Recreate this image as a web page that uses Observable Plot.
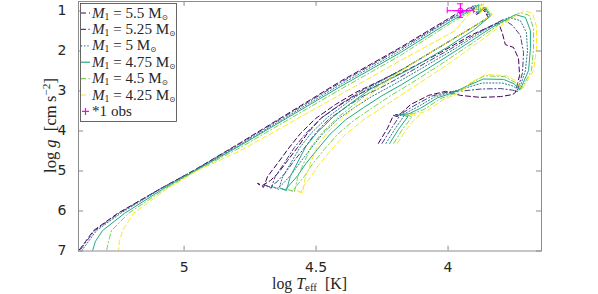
<!DOCTYPE html>
<html><head><meta charset="utf-8">
<script src="https://cdn.jsdelivr.net/npm/d3@7"></script>
<script src="https://cdn.jsdelivr.net/npm/@observablehq/plot@0.6"></script>
<style>html,body{margin:0;padding:0;background:#fff;} #chart{width:598px;height:294px;}</style>
</head><body><div id="chart"></div>
<script>
const masses = ["5.5", "5.25", "5", "4.75", "4.5", "4.25"];
const trackColors = ["#440154", "#414487", "#2a788e", "#22a884", "#7ad151", "#fde725"];
const trackDash = ["5,3", "5,2.5,1.2,2.5", "1.2,2", null, "5,2.5,1.2,2.5", "5,3"];

// [log Teff, log g]
const track55 = [
[4.264,4.31],[4.230,3.94],[4.207,3.61],[4.192,3.64],[4.142,3.34],[4.074,3.11],[4.010,3.01],
[3.953,3.11],[3.877,3.16],[3.801,3.14],[3.756,3.09],
[3.745,3.04],[3.729,2.61],[3.733,2.19],[3.752,1.91],[3.783,1.84],[3.794,1.56],[3.809,1.29],
[3.915,1.61],[4.029,2.04],[4.180,2.56],[4.283,2.91],[4.358,3.14],[4.419,3.39],[4.483,3.69],[4.533,4.06],[4.570,4.41],[4.608,4.74],[4.642,5.04],[4.673,5.24],[4.703,5.36],
[4.722,5.31],[4.699,5.41],
[4.684,5.14],[4.646,4.81],[4.605,4.44],[4.559,4.06],[4.502,3.69],[4.427,3.34],[4.351,3.04],[4.256,2.74],[4.180,2.49],[4.029,1.89],[3.915,1.44],[3.847,1.16],
[3.870,0.94],[3.892,1.09],[3.915,0.89],[3.934,0.99],[3.961,1.04],
[3.991,1.16],[4.180,1.91],[4.408,2.76],[4.786,4.29],[4.964,4.99],[5.089,5.44],[5.252,6.06],[5.343,6.49],[5.373,6.76],[5.400,7.00]
];
const track525 = [
[4.250,4.31],[4.216,3.95],[4.184,3.63],[4.200,3.59],[4.180,3.58],[4.129,3.37],[4.063,3.13],[3.999,3.02],
[3.945,3.00],[3.875,2.95],[3.800,2.94],[3.755,2.98],[3.738,3.02],
[3.718,2.54],[3.714,2.04],[3.726,1.61],[3.756,1.36],[3.790,1.21],
[3.889,1.55],[3.999,1.98],[4.142,2.51],[4.247,2.89],[4.322,3.13],[4.386,3.40],[4.451,3.70],[4.504,4.07],[4.545,4.43],[4.585,4.76],[4.618,5.06],[4.648,5.27],[4.674,5.40],
[4.695,5.35],[4.670,5.43],
[4.655,5.14],[4.620,4.80],[4.583,4.42],[4.539,4.06],[4.479,3.67],[4.406,3.32],[4.332,3.01],[4.243,2.70],[4.165,2.43],[4.021,1.86],[3.911,1.42],[3.844,1.15],
[3.866,0.92],[3.888,1.08],[3.905,0.87],[3.926,0.99],[3.953,1.05],
[3.991,1.19],[4.180,1.94],[4.408,2.79],[4.786,4.31],[4.964,4.99],[5.089,5.44],[5.248,6.06],[5.339,6.49],[5.370,6.76],[5.396,7.00]
];
const track50 = [
[4.235,4.31],[4.202,3.96],[4.168,3.63],[4.192,3.59],[4.165,3.57],[4.116,3.40],[4.051,3.15],[3.987,3.02],
[3.937,2.93],[3.870,2.80],[3.795,2.80],[3.752,2.88],[3.732,2.99],
[3.707,2.49],[3.699,1.99],[3.703,1.54],[3.726,1.24],[3.771,1.16],
[3.862,1.48],[3.968,1.92],[4.104,2.45],[4.212,2.86],[4.287,3.13],[4.354,3.41],[4.419,3.71],[4.475,4.07],[4.520,4.44],[4.561,4.79],[4.594,5.09],[4.623,5.30],[4.645,5.43],
[4.667,5.39],[4.642,5.46],
[4.626,5.14],[4.594,4.78],[4.561,4.41],[4.518,4.05],[4.457,3.66],[4.384,3.30],[4.313,2.98],[4.230,2.67],[4.150,2.37],[4.014,1.83],[3.907,1.41],[3.841,1.13],
[3.863,0.91],[3.885,1.07],[3.896,0.85],[3.918,0.98],[3.946,1.06],
[3.991,1.21],[4.180,1.99],[4.408,2.84],[4.786,4.34],[4.961,4.99],[5.086,5.44],[5.241,6.06],[5.332,6.49],[5.362,6.76],[5.389,7.00]
];
const track475 = [
[4.221,4.31],[4.189,3.97],[4.152,3.64],[4.177,3.59],[4.148,3.57],[4.104,3.43],[4.040,3.17],[3.976,3.03],
[3.930,2.88],[3.866,2.70],[3.790,2.71],[3.750,2.82],[3.727,2.97],
[3.695,2.49],[3.688,1.94],[3.688,1.49],[3.707,1.16],[3.745,1.09],
[3.836,1.42],[3.938,1.86],[4.067,2.40],[4.176,2.84],[4.251,3.12],[4.321,3.42],[4.388,3.72],[4.447,4.08],[4.495,4.46],[4.538,4.81],[4.569,5.11],[4.598,5.33],[4.617,5.47],
[4.636,5.43],[4.612,5.49],
[4.598,5.14],[4.569,4.77],[4.539,4.39],[4.498,4.05],[4.434,3.64],[4.363,3.28],[4.294,2.95],[4.218,2.70],[4.135,2.42],[4.006,1.92],[3.904,1.48],[3.838,1.12],
[3.861,0.90],[3.883,1.06],[3.884,0.84],[3.911,0.97],[3.938,1.07],
[3.991,1.26],[4.180,2.04],[4.408,2.89],[4.786,4.36],[4.957,4.99],[5.078,5.44],[5.226,6.06],[5.309,6.49],[5.336,6.76],[5.347,7.00]
];
const track45 = [
[4.206,4.31],[4.175,3.98],[4.136,3.64],[4.162,3.59],[4.130,3.56],[4.091,3.46],[4.028,3.19],[3.964,3.03],
[3.922,2.84],[3.862,2.62],[3.786,2.64],[3.747,2.78],[3.722,2.95],
[3.684,2.49],[3.676,1.94],[3.676,1.44],[3.692,1.11],[3.726,1.04],
[3.809,1.35],[3.907,1.80],[4.029,2.34],[4.141,2.81],[4.216,3.11],[4.289,3.43],[4.356,3.73],[4.418,4.08],[4.470,4.47],[4.515,4.84],[4.545,5.14],[4.573,5.36],[4.588,5.50],
[4.605,5.47],[4.582,5.52],
[4.569,5.14],[4.543,4.75],[4.517,4.38],[4.477,4.04],[4.412,3.63],[4.341,3.26],[4.275,2.92],[4.205,2.60],[4.120,2.25],[3.999,1.77],[3.900,1.38],[3.835,1.10],
[3.858,0.90],[3.880,1.05],[3.873,0.82],[3.903,0.97],[3.931,1.08],
[3.991,1.31],[4.180,2.11],[4.408,2.96],[4.786,4.41],[4.953,4.99],[5.070,5.44],[5.211,6.06],[5.275,6.49],[5.286,6.76],[5.294,7.00]
];
const track425 = [
[4.192,4.31],[4.161,3.99],[4.131,3.74],[4.108,3.61],[4.146,3.59],[4.097,3.54],[4.078,3.49],[4.017,3.21],[3.953,3.04],
[3.915,2.79],[3.858,2.59],[3.783,2.61],[3.745,2.74],[3.718,2.94],
[3.676,2.49],[3.665,1.94],[3.665,1.39],[3.680,1.06],[3.711,0.99],
[3.783,1.29],[3.877,1.74],[3.991,2.29],[4.105,2.79],[4.180,3.11],[4.256,3.44],[4.324,3.74],[4.389,4.09],[4.445,4.49],[4.491,4.86],[4.521,5.16],[4.548,5.39],[4.559,5.54],
[4.574,5.49],[4.551,5.54],
[4.540,5.14],[4.517,4.74],[4.495,4.36],[4.457,4.04],[4.389,3.61],[4.320,3.24],[4.256,2.89],[4.192,2.56],[4.105,2.19],[3.991,1.74],[3.896,1.36],[3.832,1.09],
[3.855,0.89],[3.877,1.04],[3.862,0.81],[3.896,0.96],[3.923,1.09],
[3.972,1.49],[4.180,2.24],[4.408,3.09],[4.786,4.49],[4.949,4.99],[5.063,5.44],[5.192,6.06],[5.233,6.49],[5.245,6.76],[5.248,7.00]
];
const tracks = [track55, track525, track50, track475, track45, track425];

const obsTeff = [3.953];
const obsLogg = [0.99];
const obsTeffErr = [0.05];
const obsLoggErr = [0.17];
const obsLabel = "*1 obs";

const xTicks = [5, 4.5, 4];
const yTicks = [1, 2, 3, 4, 5, 6, 7];
const xDomain = [5.40, 3.646];
const yDomain = [7, 0.7625];

const obs = obsTeff.map((x, i) => ({x, y: obsLogg[i], xe: obsTeffErr[i], ye: obsLoggErr[i]}));
const axisColor = "#8c8c8c";
const magenta = "#ff00ff";

const marks = [];
tracks.forEach((t, k) => {
  const opts = {x: d => d[0], y: d => d[1], stroke: trackColors[k], strokeWidth: 1, clip: true};
  if (trackDash[k]) opts.strokeDasharray = trackDash[k];
  marks.push(Plot.line(t, opts));
});
marks.push(
  Plot.ruleY(obs, {y: "y", x1: d => d.x - d.xe, x2: d => d.x + d.xe, stroke: magenta, strokeWidth: 1}),
  Plot.ruleX(obs, {x: "x", y1: d => d.y - d.ye, y2: d => d.y + d.ye, stroke: magenta, strokeWidth: 1}),
  Plot.ruleX(obs, {x: d => d.x - d.xe, y1: d => d.y - 0.08, y2: d => d.y + 0.08, stroke: magenta}),
  Plot.ruleX(obs, {x: d => d.x + d.xe, y1: d => d.y - 0.08, y2: d => d.y + 0.08, stroke: magenta}),
  Plot.ruleY(obs, {y: d => d.y - d.ye, x1: d => d.x - 0.012, x2: d => d.x + 0.012, stroke: magenta}),
  Plot.ruleY(obs, {y: d => d.y + d.ye, x1: d => d.x - 0.012, x2: d => d.x + 0.012, stroke: magenta}),
  Plot.dot(obs, {x: "x", y: "y", symbol: "plus", r: 4.5, stroke: magenta, strokeWidth: 1.2}),
  Plot.dot(obs, {x: "x", y: "y", symbol: "circle", r: 2.5, stroke: magenta, strokeWidth: 1})
);
marks.push(
  Plot.frame({stroke: axisColor}),
  Plot.ruleX(xTicks, {x: d => d, y1: yDomain[0], y2: yDomain[0] - 0.12, stroke: axisColor}),
  Plot.ruleX(xTicks, {x: d => d, y1: yDomain[1], y2: yDomain[1] + 0.12, stroke: axisColor}),
  Plot.ruleY(yTicks, {y: d => d, x1: xDomain[0], x2: xDomain[0] - 0.019, stroke: axisColor}),
  Plot.ruleY(yTicks, {y: d => d, x1: xDomain[1], x2: xDomain[1] + 0.019, stroke: axisColor}),
  Plot.axisX(xTicks, {anchor: "bottom", tickSize: 0, tickPadding: 11, tickFormat: d => String(d), label: null, fill: "#262626"}),
  Plot.axisY(yTicks, {anchor: "left", tickSize: 0, tickPadding: 12, tickFormat: d => String(d), label: null, fill: "#262626"})
);

const chart = Plot.plot({
  width: 598, height: 294,
  marginLeft: 78, marginRight: 57, marginTop: 1, marginBottom: 43.5,
  style: {fontFamily: "'DejaVu Sans', sans-serif", fontSize: "14px", background: "#fff", color: "#262626"},
  x: {domain: xDomain, label: null},
  y: {domain: yDomain, label: null},
  marks
});
document.getElementById("chart").appendChild(chart);

function fitText(sel, target) {
  const L = sel.node().getComputedTextLength();
  if (!L) return 1;
  const k = target / L;
  applyScale(sel, k);
  return k;
}
function applyScale(sel, k) {
  sel.attr("font-size", +sel.attr("font-size") * k);
  sel.selectAll("tspan").each(function() {
    const t = d3.select(this);
    if (t.attr("font-size")) t.attr("font-size", +t.attr("font-size") * k);
    if (t.attr("dy")) t.attr("dy", +t.attr("dy") * k);
  });
}

const svg = d3.select(chart);
const serif = "'Liberation Serif', 'DejaVu Serif', serif";
const xt = svg.append("text").attr("x", 309.5).attr("y", 289).attr("text-anchor", "middle")
  .attr("font-family", serif).attr("font-size", 16).attr("fill", "#262626");
xt.append("tspan").text("log ");
xt.append("tspan").attr("font-style", "italic").text("T");
xt.append("tspan").attr("font-size", 11).attr("dy", 2.5).text("eff");
xt.append("tspan").attr("dy", -2.5).text("\u2002[K]");
fitText(xt, 75);

const yt = svg.append("text").attr("transform", "translate(56,125.5) rotate(-90)").attr("text-anchor", "middle")
  .attr("font-family", serif).attr("font-size", 16).attr("fill", "#262626");
yt.append("tspan").text("log ");
yt.append("tspan").attr("font-style", "italic").text("g");
yt.append("tspan").text("\u2002[cm\u2009s");
yt.append("tspan").attr("font-size", 11).attr("dy", -6).text("\u22122");
yt.append("tspan").attr("dy", 6).text("]");
fitText(yt, 95);

const lg = svg.append("g").attr("text-anchor", "start");
lg.append("rect").attr("x", 80.5).attr("y", 3.5).attr("width", 96).attr("height", 118)
  .attr("fill", "#fff").attr("stroke", "#404040").attr("stroke-width", 0.8);
let legendScale = null;
masses.forEach((m, k) => {
  const yc = 13 + 16.4 * k;
  const ln = lg.append("line").attr("x1", 81).attr("x2", 90).attr("y1", yc).attr("y2", yc)
    .attr("stroke", trackColors[k]).attr("stroke-width", 1.2);
  if (trackDash[k]) ln.attr("stroke-dasharray", trackDash[k]);
  const t = lg.append("text").attr("x", 92).attr("y", yc + 4.5).attr("text-anchor", "start")
    .attr("font-family", serif).attr("font-size", 14).attr("fill", "#262626");
  t.append("tspan").attr("font-style", "italic").text("M");
  t.append("tspan").attr("font-size", 9).attr("dy", 2).text("1");
  t.append("tspan").attr("dy", -2).text(" = " + m + " M");
  t.append("tspan").attr("font-size", 7).attr("dy", 2).text("\u2299");
  if (legendScale === null) legendScale = fitText(t, 76);
  else applyScale(t, legendScale);
});
{
  const yc = 13 + 16.4 * 6;
  lg.append("path").attr("d", `M82,${yc}h7M85.5,${yc - 3.5}v7`).attr("stroke", magenta).attr("stroke-width", 1.2);
  lg.append("text").attr("x", 92).attr("y", yc + 4.5).attr("text-anchor", "start").attr("font-family", serif)
    .attr("font-size", 14 * legendScale).attr("fill", "#262626").text(obsLabel);
}
</script>
</body></html>
